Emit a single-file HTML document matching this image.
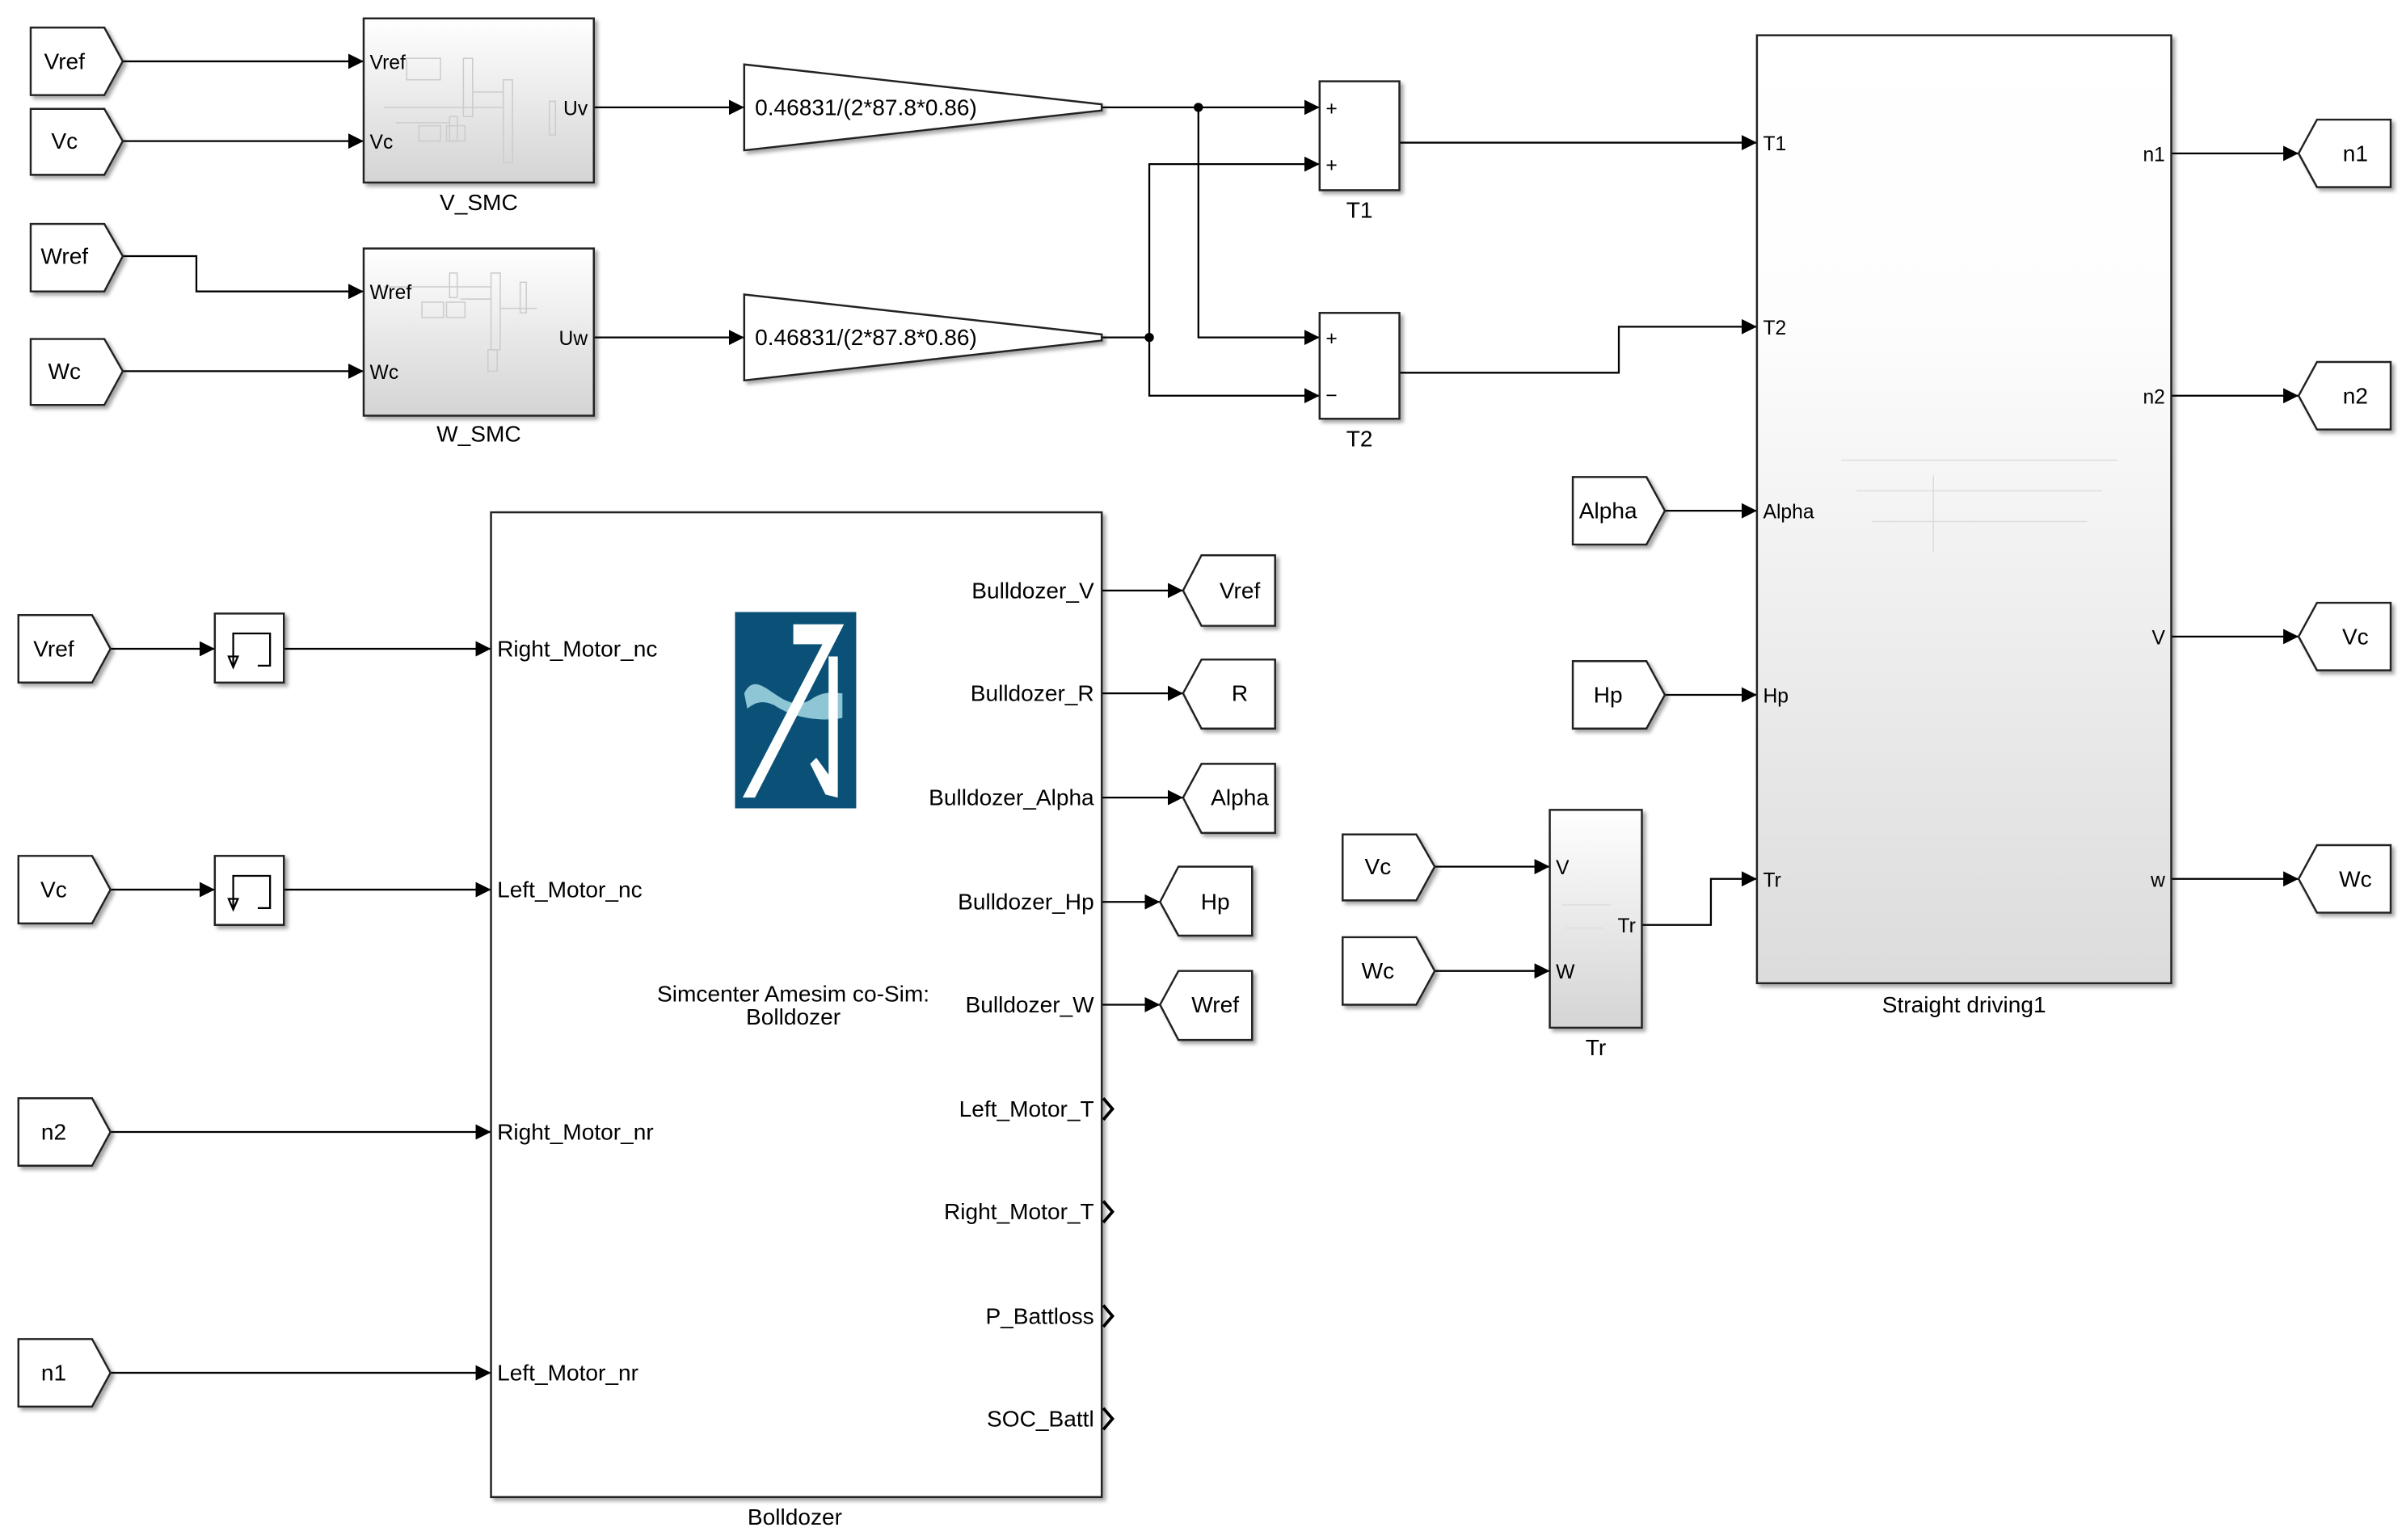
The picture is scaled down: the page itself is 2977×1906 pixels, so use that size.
<!DOCTYPE html>
<html><head><meta charset="utf-8"><style>
html,body{margin:0;padding:0;background:#fff;}
svg{display:block;}
text{font-family:"Liberation Sans",sans-serif;fill:#000;}
</style></head><body>
<svg width="2977" height="1906" viewBox="0 0 1568 1004" preserveAspectRatio="none" xmlns="http://www.w3.org/2000/svg">
<defs>
<marker id="a" viewBox="0 0 10 10" refX="10" refY="5" markerWidth="10" markerHeight="10" markerUnits="userSpaceOnUse" orient="auto"><path d="M0,0L10,5L0,10z" fill="#000"/></marker>
<linearGradient id="g" x1="0" y1="0" x2="0" y2="1"><stop offset="0" stop-color="#fff"/><stop offset="1" stop-color="#d4d4d4"/></linearGradient>
<linearGradient id="g2" x1="0" y1="0" x2="0" y2="1"><stop offset="0" stop-color="#fff"/><stop offset="0.3" stop-color="#fdfdfd"/><stop offset="1" stop-color="#dcdcdc"/></linearGradient>
<filter id="s" x="-10%" y="-10%" width="130%" height="130%"><feDropShadow dx="2" dy="2" stdDeviation="1.2" flood-color="#000" flood-opacity="0.35"/></filter>
</defs>
<g fill="none" stroke="#000" stroke-width="1.2">
<polyline points="80,40 237,40" marker-end="url(#a)"/>
<polyline points="80,92 237,92" marker-end="url(#a)"/>
<polyline points="80,167 128,167 128,190 237,190" marker-end="url(#a)"/>
<polyline points="80,242 237,242" marker-end="url(#a)"/>
<polyline points="387,70 485,70" marker-end="url(#a)"/>
<polyline points="387,220 485,220" marker-end="url(#a)"/>
<polyline points="718,70 860,70" marker-end="url(#a)"/>
<polyline points="781,70 781,220 860,220" marker-end="url(#a)"/>
<polyline points="718,220 749,220"/>
<polyline points="749,220 749,107 860,107" marker-end="url(#a)"/>
<polyline points="749,220 749,258 860,258" marker-end="url(#a)"/>
<polyline points="912,93 1145,93" marker-end="url(#a)"/>
<polyline points="912,243 1055,243 1055,213 1145,213" marker-end="url(#a)"/>
<polyline points="1085,333 1145,333" marker-end="url(#a)"/>
<polyline points="1085,453 1145,453" marker-end="url(#a)"/>
<polyline points="1070,603 1115,603 1115,573 1145,573" marker-end="url(#a)"/>
<polyline points="935,565 1010,565" marker-end="url(#a)"/>
<polyline points="935,633 1010,633" marker-end="url(#a)"/>
<polyline points="1415,100 1498,100" marker-end="url(#a)"/>
<polyline points="1415,258 1498,258" marker-end="url(#a)"/>
<polyline points="1415,415 1498,415" marker-end="url(#a)"/>
<polyline points="1415,573 1498,573" marker-end="url(#a)"/>
<polyline points="72,423 140,423" marker-end="url(#a)"/>
<polyline points="185,423 320,423" marker-end="url(#a)"/>
<polyline points="72,580 140,580" marker-end="url(#a)"/>
<polyline points="185,580 320,580" marker-end="url(#a)"/>
<polyline points="72,738 320,738" marker-end="url(#a)"/>
<polyline points="72,895 320,895" marker-end="url(#a)"/>
<polyline points="718,385 771,385" marker-end="url(#a)"/>
<polyline points="718,452 771,452" marker-end="url(#a)"/>
<polyline points="718,520 771,520" marker-end="url(#a)"/>
<polyline points="718,588 756,588" marker-end="url(#a)"/>
<polyline points="718,655 756,655" marker-end="url(#a)"/>
</g>
<circle cx="781" cy="70" r="3" fill="#000"/>
<circle cx="749" cy="220" r="3" fill="#000"/>

<g stroke="#222" stroke-width="1.3" filter="url(#s)">
<path d="M20,18H68L80,40L68,62H20Z" fill="#fff"/>
<path d="M20,71H68L80,92L68,114H20Z" fill="#fff"/>
<path d="M20,146H68L80,167L68,190H20Z" fill="#fff"/>
<path d="M20,221H68L80,242L68,264H20Z" fill="#fff"/>
<path d="M12,401H60L72,423L60,445H12Z" fill="#fff"/>
<path d="M12,558H60L72,580L60,602H12Z" fill="#fff"/>
<path d="M12,716H60L72,738L60,760H12Z" fill="#fff"/>
<path d="M12,873H60L72,895L60,917H12Z" fill="#fff"/>
<path d="M1025,311H1073L1085,333L1073,355H1025Z" fill="#fff"/>
<path d="M1025,431H1073L1085,453L1073,475H1025Z" fill="#fff"/>
<path d="M875,544H923L935,565L923,587H875Z" fill="#fff"/>
<path d="M875,611H923L935,633L923,655H875Z" fill="#fff"/>
<path d="M1498,100L1510,78H1558V122H1510Z" fill="#fff"/>
<path d="M1498,258L1510,236H1558V280H1510Z" fill="#fff"/>
<path d="M1498,415L1510,393H1558V437H1510Z" fill="#fff"/>
<path d="M1498,573L1510,551H1558V595H1510Z" fill="#fff"/>
<path d="M771,385L783,362H831V408H783Z" fill="#fff"/>
<path d="M771,452L783,430H831V475H783Z" fill="#fff"/>
<path d="M771,520L783,498H831V543H783Z" fill="#fff"/>
<path d="M756,588L768,565H816V610H768Z" fill="#fff"/>
<path d="M756,655L768,633H816V678H768Z" fill="#fff"/>
<rect x="237" y="12" width="150" height="107" fill="url(#g)"/>
<rect x="237" y="162" width="150" height="109" fill="url(#g)"/>
<path d="M485,42L718,68V72L485,98Z" fill="#fff"/>
<path d="M485,192L718,218V222L485,248Z" fill="#fff"/>
<rect x="860" y="53" width="52" height="71" fill="#fff"/>
<rect x="860" y="204" width="52" height="69" fill="#fff"/>
<rect x="1145" y="23" width="270" height="618" fill="url(#g2)"/>
<rect x="1010" y="528" width="60" height="142" fill="url(#g)"/>
<rect x="320" y="334" width="398" height="642" fill="#fff"/>
<rect x="140" y="400" width="45" height="45" fill="#fff"/>
<rect x="140" y="558" width="45" height="45" fill="#fff"/>
</g>
<g fill="none" stroke="#000" stroke-width="1.2">
<path d="M152,434V413H176V434H168"/><path d="M149,428L152,435L155,428Z"/>
<path d="M152,592V571H176V592H168"/><path d="M149,586L152,593L155,586Z"/>
</g>
<g fill="none" stroke="#000" stroke-width="2">
<path d="M719,716L725,723L719,730"/>
<path d="M719,783L725,790L719,797"/>
<path d="M719,851L725,858L719,865"/>
<path d="M719,918L725,925L719,932"/>
</g>
<g fill="none" stroke="#ccc" stroke-width="0.8">
<rect x="265" y="38" width="22" height="14"/><rect x="302" y="38" width="6" height="38"/>
<rect x="328" y="52" width="6" height="54"/><rect x="293" y="76" width="5" height="16"/>
<rect x="273" y="82" width="14" height="10"/><rect x="291" y="82" width="12" height="10"/>
<rect x="358" y="66" width="4" height="22"/><path d="M250,70H328M258,80H293M308,60H328"/>
<rect x="275" y="197" width="14" height="10"/><rect x="291" y="197" width="12" height="10"/>
<rect x="293" y="178" width="5" height="16"/><rect x="320" y="178" width="6" height="50"/>
<rect x="339" y="184" width="4" height="20"/><rect x="318" y="228" width="6" height="14"/>
<path d="M250,187H320M300,195H320M326,201H350"/>
<path d="M1200,300H1380M1210,320H1370M1220,340H1360M1260,310V360" stroke="#ddd"/>
<path d="M1018,590H1050M1020,605H1045" stroke="#ddd"/>
</g>
<rect x="479" y="399" width="79" height="128" fill="#0b5177"/>
<path d="M485,452C495,432 510,470 530,455C538,450 545,452 549,452V468C540,470 520,470 505,460C495,455 490,460 487,462Z" fill="#8fc6d6"/>
<path d="M517,407H550L492,520H484L536,420H517Z" fill="#fff"/>
<path d="M540,428H546V520L538,518L528,498L532,494L540,505Z" fill="#fff"/>

<g font-size="14.8">
<text x="42" y="45" text-anchor="middle">Vref</text>
<text x="42" y="97" text-anchor="middle">Vc</text>
<text x="42" y="172" text-anchor="middle">Wref</text>
<text x="42" y="247" text-anchor="middle">Wc</text>
<text x="35" y="428" text-anchor="middle">Vref</text>
<text x="35" y="585" text-anchor="middle">Vc</text>
<text x="35" y="743" text-anchor="middle">n2</text>
<text x="35" y="900" text-anchor="middle">n1</text>
<text x="1048" y="338" text-anchor="middle">Alpha</text>
<text x="1048" y="458" text-anchor="middle">Hp</text>
<text x="898" y="570" text-anchor="middle">Vc</text>
<text x="898" y="638" text-anchor="middle">Wc</text>
<text x="1535" y="105" text-anchor="middle">n1</text>
<text x="1535" y="263" text-anchor="middle">n2</text>
<text x="1535" y="420" text-anchor="middle">Vc</text>
<text x="1535" y="578" text-anchor="middle">Wc</text>
<text x="808" y="390" text-anchor="middle">Vref</text>
<text x="808" y="457" text-anchor="middle">R</text>
<text x="808" y="525" text-anchor="middle">Alpha</text>
<text x="792" y="593" text-anchor="middle">Hp</text>
<text x="792" y="660" text-anchor="middle">Wref</text>
<text x="312" y="137" text-anchor="middle">V_SMC</text>
<text x="312" y="288" text-anchor="middle">W_SMC</text>
<text x="886" y="142" text-anchor="middle">T1</text>
<text x="886" y="291" text-anchor="middle">T2</text>
<text x="1280" y="660" text-anchor="middle">Straight driving1</text>
<text x="1040" y="688" text-anchor="middle">Tr</text>
<text x="518" y="994" text-anchor="middle">Bolldozer</text>
<text x="492" y="75">0.46831/(2*87.8*0.86)</text>
<text x="492" y="225">0.46831/(2*87.8*0.86)</text>
<text x="324" y="428">Right_Motor_nc</text>
<text x="324" y="585">Left_Motor_nc</text>
<text x="324" y="743">Right_Motor_nr</text>
<text x="324" y="900">Left_Motor_nr</text>
<text x="517" y="653" text-anchor="middle">Simcenter Amesim co-Sim:</text>
<text x="517" y="668" text-anchor="middle">Bolldozer</text>
<g text-anchor="end">
<text x="713" y="390">Bulldozer_V</text>
<text x="713" y="457">Bulldozer_R</text>
<text x="713" y="525">Bulldozer_Alpha</text>
<text x="713" y="593">Bulldozer_Hp</text>
<text x="713" y="660">Bulldozer_W</text>
<text x="713" y="728">Left_Motor_T</text>
<text x="713" y="795">Right_Motor_T</text>
<text x="713" y="863">P_Battloss</text>
<text x="713" y="930">SOC_Battl</text>
</g>
</g>
<g font-size="13">
<text x="241" y="45">Vref</text>
<text x="241" y="97">Vc</text>
<text x="383" y="75" text-anchor="end">Uv</text>
<text x="241" y="195">Wref</text>
<text x="241" y="247">Wc</text>
<text x="383" y="225" text-anchor="end">Uw</text>
<text x="1149" y="98">T1</text>
<text x="1149" y="218">T2</text>
<text x="1149" y="338">Alpha</text>
<text x="1149" y="458">Hp</text>
<text x="1149" y="578">Tr</text>
<text x="1411" y="105" text-anchor="end">n1</text>
<text x="1411" y="263" text-anchor="end">n2</text>
<text x="1411" y="420" text-anchor="end">V</text>
<text x="1411" y="578" text-anchor="end">w</text>
<text x="1014" y="570">V</text>
<text x="1014" y="638">W</text>
<text x="1066" y="608" text-anchor="end">Tr</text>
<text x="864" y="75">+</text>
<text x="864" y="112">+</text>
<text x="864" y="225">+</text>
<text x="864" y="262">−</text>
</g>
</svg>
</body></html>
